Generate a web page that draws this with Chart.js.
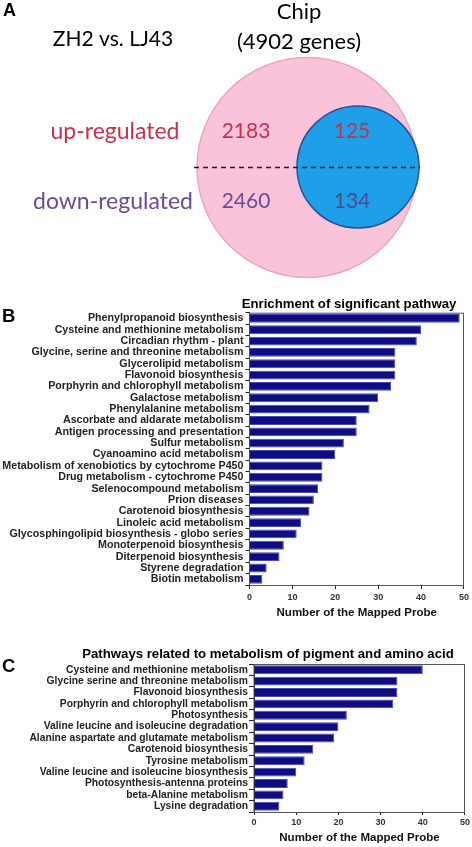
<!DOCTYPE html>
<html><head><meta charset="utf-8">
<script src="https://cdn.jsdelivr.net/npm/chart.js@4.4.1/dist/chart.umd.min.js"></script>
<style>
html,body{margin:0;padding:0;background:#fff;width:472px;height:847px;overflow:hidden;}
.wrap{position:absolute;left:0;width:472px;}
</style></head><body>
<div class="wrap" style="top:0;height:290px"><canvas id="venn"></canvas></div>
<div class="wrap" style="top:290px;height:332px"><canvas id="chartB"></canvas></div>
<div class="wrap" style="top:622px;height:225px"><canvas id="chartC"></canvas></div>
<script>
// ---------- DATA ----------
const comparison = 'ZH2 vs. LJ43';
const chipName = 'Chip';
const chipTotal = 4902;
const regulation = ['up-regulated', 'down-regulated'];
const outsideChip = [2183, 2460];
const insideChip = [125, 134];

const pathwaysB = [
  'Phenylpropanoid biosynthesis',
  'Cysteine and methionine metabolism',
  'Circadian rhythm - plant',
  'Glycine, serine and threonine metabolism',
  'Glycerolipid metabolism',
  'Flavonoid biosynthesis',
  'Porphyrin and chlorophyll metabolism',
  'Galactose metabolism',
  'Phenylalanine metabolism',
  'Ascorbate and aldarate metabolism',
  'Antigen processing and presentation',
  'Sulfur metabolism',
  'Cyanoamino acid metabolism',
  'Metabolism of xenobiotics by cytochrome P450',
  'Drug metabolism - cytochrome P450',
  'Selenocompound metabolism',
  'Prion diseases',
  'Carotenoid biosynthesis',
  'Linoleic acid metabolism',
  'Glycosphingolipid biosynthesis - globo series',
  'Monoterpenoid biosynthesis',
  'Diterpenoid biosynthesis',
  'Styrene degradation',
  'Biotin metabolism'
];
const probesB = [49, 40, 39, 34, 34, 34, 33, 30, 28, 25, 25, 22, 20, 17, 17, 16, 15, 14, 12, 11, 8, 7, 4, 3];

const pathwaysC = [
  'Cysteine and methionine metabolism',
  'Glycine serine and threonine metabolism',
  'Flavonoid biosynthesis',
  'Porphyrin and chlorophyll metabolism',
  'Photosynthesis',
  'Valine leucine and isoleucine degradation',
  'Alanine aspartate and glutamate metabolism',
  'Carotenoid biosynthesis',
  'Tyrosine metabolism',
  'Valine leucine and isoleucine biosynthesis',
  'Photosynthesis-antenna proteins',
  'beta-Alanine metabolism',
  'Lysine degradation'
];
const probesC = [40, 34, 34, 33, 22, 20, 19, 14, 12, 10, 8, 7, 6];

const xTicks = [0, 10, 20, 30, 40, 50];
const titleB = 'Enrichment of significant pathway';
const titleC = 'Pathways related to metabolism of pigment and amino acid';
const xTitle = 'Number of the Mapped Probe';

// ---------- STYLE / LAYOUT ----------
const ARIAL = "'Liberation Sans', Arial, Helvetica, sans-serif";
const VFONT = "Lato, 'Open Sans', sans-serif";
const RED = '#c8304c', PURPLE = '#6c4a94', DARKNUM = '#4a4a8c';
const vennLayout = {
  big: {x: 307, y: 167.5, r: 110},
  small: {x: 358, y: 167, r: 61},
  dashY: 167.5, dashX0: 194, dashX1: 420,
  rowY: [131.7, 201.7], labelX: [115, 113], outX: 246, inX: 352
};

const textPlugin = (items) => ({
  id: 'texts',
  afterDraw(chart) {
    const ctx = chart.ctx;
    ctx.save();
    items(chart).forEach(t => {
      ctx.font = t.font;
      ctx.fillStyle = t.color || '#000';
      ctx.textAlign = t.align || 'center';
      ctx.textBaseline = t.base || 'middle';
      ctx.fillText(t.text, t.x, t.y);
    });
    ctx.restore();
  }
});

// ---------- VENN ----------
new Chart(document.getElementById('venn'), {
  type: 'bubble',
  data: {
    datasets: [
      {type: 'line', data: [{x: vennLayout.dashX0, y: vennLayout.dashY}, {x: vennLayout.dashX1, y: vennLayout.dashY}],
       borderColor: '#1c1c2c', borderWidth: 1.6, borderDash: [5, 4], pointRadius: 0, order: 0, clip: false},
      {data: [vennLayout.small], backgroundColor: '#1e9fe8', borderColor: '#2a4f9c', borderWidth: 1.5, order: 1, clip: false},
      {data: [vennLayout.big], backgroundColor: '#f9c4da', borderColor: '#eba4c5', borderWidth: 1.5, order: 2, clip: false}
    ]
  },
  options: {
    responsive: true, maintainAspectRatio: false, animation: false, events: [],
    layout: {padding: 0, autoPadding: false},
    plugins: {legend: {display: false}, tooltip: {enabled: false}},
    scales: {
      x: {type: 'linear', min: 0, max: 472, display: false},
      y: {type: 'linear', min: 0, max: 290, reverse: true, display: false}
    }
  },
  plugins: [textPlugin(chart => {
    const sx = v => chart.scales.x.getPixelForValue(v), sy = v => chart.scales.y.getPixelForValue(v);
    const L = vennLayout;
    const cols = [RED, PURPLE], inCols = [RED, DARKNUM];
    const out = [
      {text: 'A', x: 3, y: 16, font: `bold 18px ${ARIAL}`, align: 'left', base: 'alphabetic'},
      {text: comparison, x: sx(113), y: sy(39), font: `21px ${VFONT}`},
      {text: chipName, x: sx(299), y: sy(12), font: `22px ${VFONT}`},
      {text: `(${chipTotal} genes)`, x: sx(299), y: sy(42), font: `22px ${VFONT}`}
    ];
    regulation.forEach((r, i) => {
      out.push({text: r, x: sx(L.labelX[i]), y: sy(L.rowY[i]), font: `23px ${VFONT}`, color: cols[i]});
      out.push({text: String(outsideChip[i]), x: sx(L.outX), y: sy(L.rowY[i]), font: `21px ${VFONT}`, color: cols[i]});
      out.push({text: String(insideChip[i]), x: sx(L.inX), y: sy(L.rowY[i]), font: `21px ${VFONT}`, color: inCols[i]});
    });
    return out;
  })]
});

// ---------- BAR CHARTS ----------
const framePlugin = {
  id: 'frame',
  beforeDatasetsDraw(chart) {
    const {ctx, chartArea: a} = chart;
    ctx.save();
    ctx.strokeStyle = '#555';
    ctx.lineWidth = 1;
    ctx.strokeRect(a.left, a.top + 0.5, a.right - a.left - 0.5, a.bottom - a.top);
    ctx.restore();
  }
};

function barChart(id, labels, values, cfg) {
  return new Chart(document.getElementById(id), {
    type: 'bar',
    data: {labels, datasets: [{
      data: values, backgroundColor: '#0e0e82', borderColor: '#4848bc', borderWidth: 1,
      categoryPercentage: 1, barPercentage: 0.78
    }]},
    options: {
      indexAxis: 'y', responsive: true, maintainAspectRatio: false, animation: false, events: [],
      layout: {padding: {left: 0, right: cfg.padRight, top: cfg.top, bottom: 0}},
      plugins: {legend: {display: false}, tooltip: {enabled: false}, title: {display: false}},
      scales: {
        x: {
          min: 0, max: 50,
          afterBuildTicks: s => { s.ticks = xTicks.map(v => ({value: v})); },
          grid: {drawOnChartArea: false, drawTicks: true, tickLength: cfg.xTickLen, color: '#222'},
          border: {color: '#222', width: 1},
          ticks: {font: {family: ARIAL, size: 9, weight: 'bold'}, color: '#333', padding: cfg.xPad, maxRotation: 0},
          title: {display: true, text: xTitle, font: {family: ARIAL, size: 11.5, weight: 'bold'}, color: '#111', padding: {top: 0, bottom: cfg.titlePad}},
          afterFit: s => { s.height = cfg.xH; }
        },
        y: {
          grid: {drawOnChartArea: false, drawTicks: true, tickLength: cfg.yTickLen, color: '#222'},
          border: {color: '#222', width: 1},
          ticks: {font: {family: ARIAL, size: cfg.labelSize, weight: 'bold'}, color: '#222', padding: cfg.yPad, autoSkip: false},
          afterFit: s => { s.width = cfg.left; }
        }
      }
    },
    plugins: [framePlugin, textPlugin(() => [
      {text: cfg.title, x: cfg.titleX, y: cfg.titleY, font: `bold 13.2px ${ARIAL}`},
      {text: cfg.letter, x: 2, y: cfg.letterY, font: `bold 18.5px ${ARIAL}`, align: 'left', base: 'alphabetic'}
    ])]
  });
}

barChart('chartB', pathwaysB, probesB, {
  left: 249.5, padRight: 7, top: 22.7, xH: 37, xTickLen: 4, xPad: 3, titlePad: 2,
  yTickLen: 4, yPad: 2, labelSize: 10.7,
  title: titleB, titleX: 349, titleY: 14, letter: 'B', letterY: 32
});
barChart('chartC', pathwaysC, probesC, {
  left: 254, padRight: 7, top: 42, xH: 35, xTickLen: 3, xPad: 2, titlePad: 2,
  yTickLen: 5, yPad: 1, labelSize: 10.3,
  title: titleC, titleX: 268, titleY: 32, letter: 'C', letterY: 50
});
</script>
</body></html>
